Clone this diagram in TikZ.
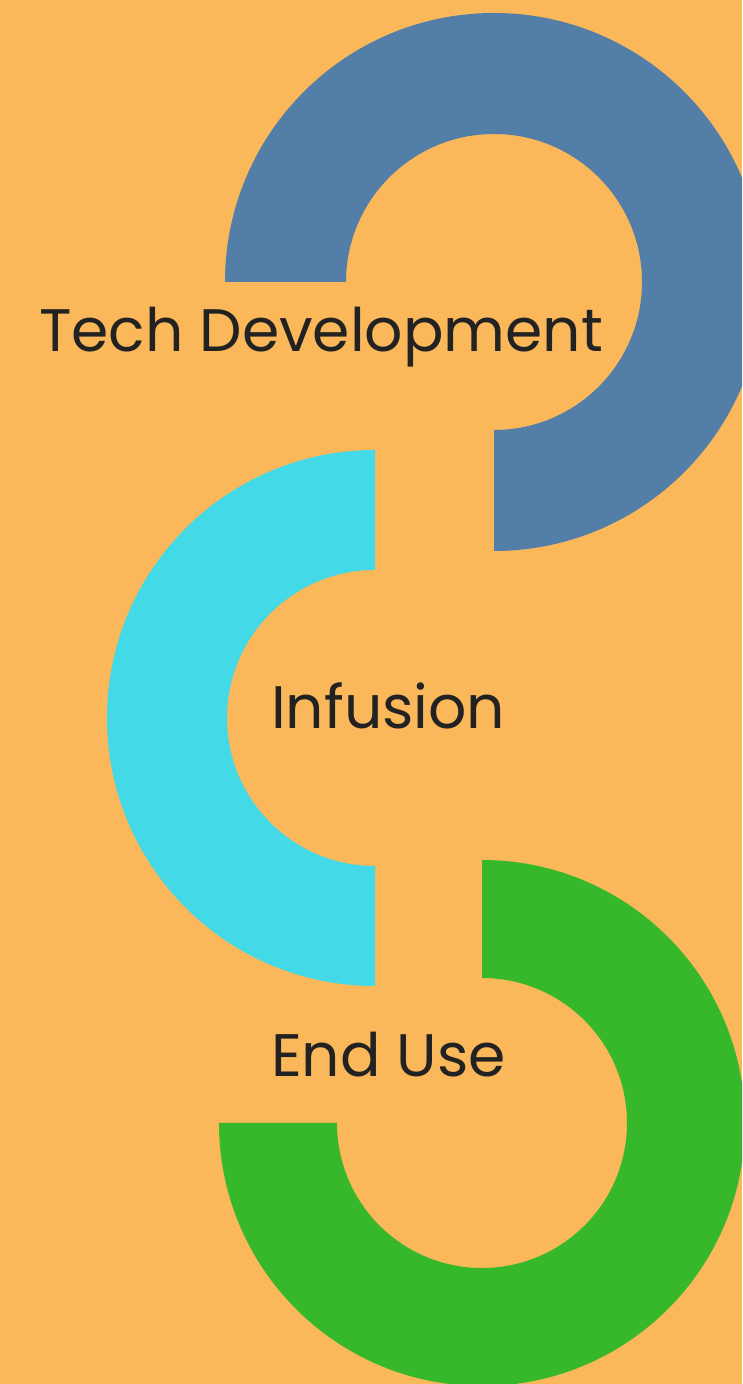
\documentclass[tikz,border=0pt]{standalone}
\usepackage{fontspec}
\setmainfont{Poppins}
\definecolor{bgc}{HTML}{FAB85A}
\definecolor{ringblue}{HTML}{527EA8}
\definecolor{ringcyan}{HTML}{44D9E6}
\definecolor{ringgreen}{HTML}{37B72A}
\definecolor{txt}{HTML}{222222}
\tikzset{
  label/.style={anchor=base west, inner sep=0pt, text=txt, font=\fontsize{60}{72}\selectfont},
}
\begin{document}
\begin{tikzpicture}[x=1pt,y=1pt]
\useasboundingbox (0,0) rectangle (742,1384);
\clip (0,0) rectangle (742,1384);
\fill[bgc] (0,0) rectangle (742,1384);
% blue ring (three quarters, gap bottom-left)
\fill[ringblue] (225,1102) arc[start angle=180, end angle=-90, radius=269]
  -- (494,954) arc[start angle=-90, end angle=180, radius=148] -- cycle;
% cyan ring (left half)
\fill[ringcyan] (375,934) arc[start angle=90, end angle=270, radius=268]
  -- (375,518) arc[start angle=270, end angle=90, radius=148] -- cycle;
% green ring (three quarters, gap top-left)
\fill[ringgreen] (482,524) arc[start angle=90, end angle=-180, radius=263]
  -- (337,261) arc[start angle=180, end angle=450, radius=145] -- cycle;
\node[label] (tech) at (39,1032) {Tech Development};
\node[label] (infusion) at (271,655.4) {Infusion};
\node[label] (enduse) at (271,307.3) {End Use};
\end{tikzpicture}
\end{document}
